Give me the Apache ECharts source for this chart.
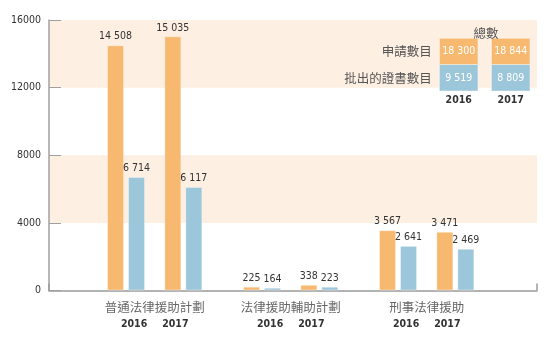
<!DOCTYPE html>
<html>
<head>
<meta charset="utf-8">
<script src="https://cdn.jsdelivr.net/npm/echarts@6/dist/echarts.min.js"></script>
<style>html,body{margin:0;padding:0;background:#fff}#c{width:560px;height:348px}</style>
</head>
<body>
<div id="c"></div>
<script>
const categories = ['普通法律援助計劃', '法律援助輔助計劃', '刑事法律援助'];
const years = ['2016', '2017'];
const applied2016 = [14508, 225, 3567];
const granted2016 = [6714, 164, 2641];
const applied2017 = [15035, 338, 3471];
const granted2017 = [6117, 223, 2469];
const totalRows = ['申請數目', '批出的證書數目'];
const totalTitle = '總數';
const totalApplied = [18300, 18844];
const totalGranted = [9519, 8809];
const yMin = 0, yMax = 16000, yStep = 4000;

const ORANGE = '#F7B86F', BLUE = '#9CC6DA', BAND = '#FDEFE2';
const NUM_FONT = "'Liberation Sans Narrow','DejaVu Sans Condensed','Roboto',sans-serif";
const CJK_FONT = "'Noto Sans CJK TC','Noto Sans CJK SC',sans-serif";
const fmt = v => String(v).replace(/\B(?=(\d{3})+(?!\d))/g, ' ');

const barLabel = {
  show: true, position: 'top', distance: 3,
  color: '#333', fontSize: 10.5, fontFamily: NUM_FONT,
  formatter: p => fmt(p.value)
};
function barSeries(name, data, color) {
  return {
    name, type: 'bar', xAxisIndex: 1, yAxisIndex: 1, data,
    barWidth: 17, barGap: '23.5%',
    itemStyle: { color, borderColor: 'rgba(255,255,255,0.35)', borderWidth: 1 },
    label: barLabel
  };
}

const chart = echarts.init(document.getElementById('c'));
chart.setOption({
  animation: false,
  title: {
    text: totalTitle, left: 481, top: 22, textAlign: 'center',
    textStyle: { color: '#555', fontSize: 12.5, fontWeight: 'normal', fontFamily: CJK_FONT }
  },
  grid: [
    { left: 49, right: 23, top: 20, bottom: 57.5 },
    { left: 86.7, right: 65.3, top: 20, bottom: 57.5 },
    { left: 432.7, width: 104, top: 38.3, height: 52.7 }
  ],
  xAxis: [
    { gridIndex: 0, type: 'category', data: [''], boundaryGap: true,
      axisLine: { lineStyle: { color: '#9b9b9b', width: 1.5 } },
      axisTick: { show: true, inside: true, length: 7, lineStyle: { color: '#9b9b9b', width: 1.5 } },
      axisLabel: { show: false } },
    { gridIndex: 1, type: 'category', data: categories,
      axisLine: { show: false }, axisTick: { show: false },
      axisLabel: {
        margin: 8, interval: 0,
        formatter: v => '{g|' + v + '}\n{y|' + years[0] + '}{s| }{y|' + years[1] + '}',
        rich: {
          g: { fontSize: 12.5, color: '#666', fontFamily: CJK_FONT, lineHeight: 17 },
          y: { fontSize: 10.5, color: '#333', fontFamily: NUM_FONT, fontWeight: 'bold', lineHeight: 18 },
          s: { width: 15, fontSize: 11, lineHeight: 18 }
        }
      } },
    { gridIndex: 2, type: 'category', data: years,
      axisLine: { show: false }, axisTick: { show: false },
      axisLabel: { margin: 4, color: '#333', fontSize: 10.5, fontWeight: 'bold', fontFamily: NUM_FONT } }
  ],
  yAxis: [
    { gridIndex: 0, type: 'value', min: yMin, max: yMax, interval: yStep,
      axisLine: { show: true, lineStyle: { color: '#a0a0a0', width: 1.5 } },
      axisTick: { show: true, inside: true, length: 12, lineStyle: { color: '#a0a0a0', width: 1 } },
      axisLabel: { margin: 8, color: '#333', fontSize: 10.5, fontFamily: NUM_FONT, padding: [9, 0, 0, 0],
        formatter: v => String(v) },
      splitLine: { show: false },
      splitArea: { show: true, areaStyle: { color: ['rgba(255,255,255,0)', BAND] } } },
    { gridIndex: 1, type: 'value', min: yMin, max: yMax, interval: yStep, show: false },
    { gridIndex: 2, type: 'category', data: totalRows, inverse: true,
      axisLine: { show: false }, axisTick: { show: false },
      axisLabel: { margin: 1, color: '#555', fontSize: 12.5, fontFamily: CJK_FONT } }
  ],
  series: [
    barSeries('申請數目 2016', applied2016, ORANGE),
    barSeries('批出的證書數目 2016', granted2016, BLUE),
    { name: 'spacer', type: 'bar', xAxisIndex: 1, yAxisIndex: 1, data: ['-', '-', '-'], barWidth: 12.4, barGap: '23.5%', itemStyle: { color: 'rgba(0,0,0,0)' } },
    barSeries('申請數目 2017', applied2017, ORANGE),
    barSeries('批出的證書數目 2017', granted2017, BLUE),
    { name: totalRows[0], type: 'scatter', xAxisIndex: 2, yAxisIndex: 2,
      symbol: 'rect', symbolSize: [38.7, 26.4],
      itemStyle: { color: ORANGE, borderColor: 'rgba(255,255,255,0.45)', borderWidth: 1, opacity: 1 },
      label: { show: true, position: 'inside', color: '#fff', fontSize: 10.5, fontFamily: NUM_FONT, formatter: p => fmt(p.value[2]) },
      data: years.map((y, i) => [y, totalRows[0], totalApplied[i]]) },
    { name: totalRows[1], type: 'scatter', xAxisIndex: 2, yAxisIndex: 2,
      symbol: 'rect', symbolSize: [38.7, 26.4],
      itemStyle: { color: BLUE, borderColor: 'rgba(255,255,255,0.45)', borderWidth: 1, opacity: 1 },
      label: { show: true, position: 'inside', color: '#fff', fontSize: 10.5, fontFamily: NUM_FONT, formatter: p => fmt(p.value[2]) },
      data: years.map((y, i) => [y, totalRows[1], totalGranted[i]]) }
  ]
});
</script>
</body>
</html>
